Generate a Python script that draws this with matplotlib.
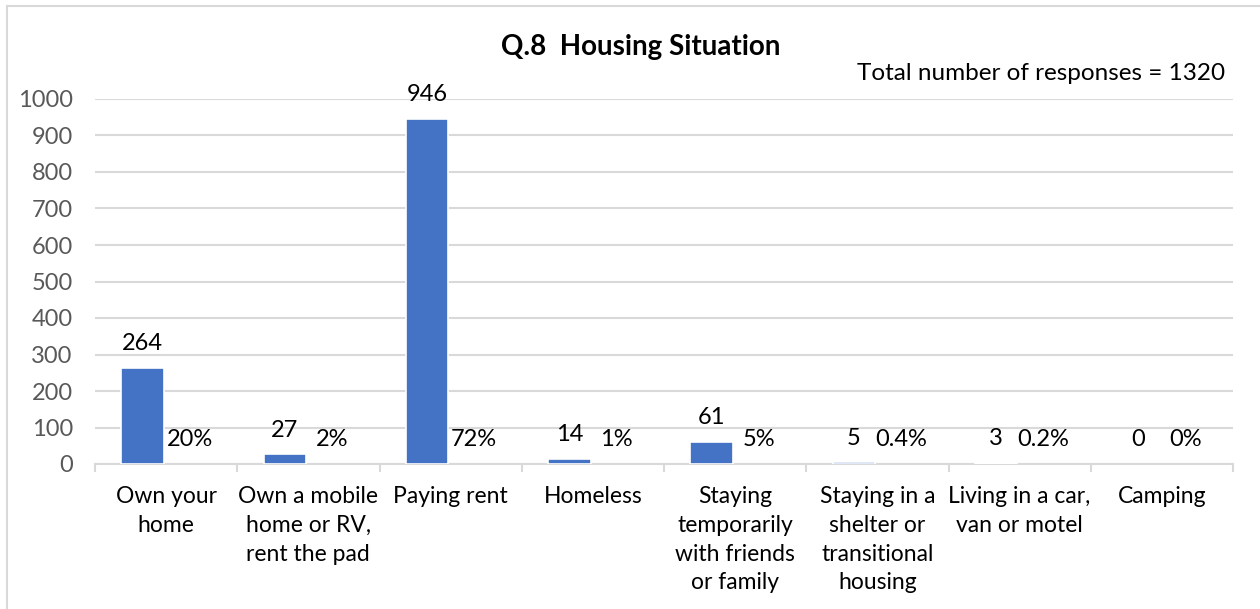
import matplotlib
matplotlib.use("Agg")
import matplotlib.pyplot as plt
from matplotlib.lines import Line2D
import numpy as np

plt.rcParams['font.family'] = ['Lato', 'DejaVu Sans']

categories = [
    "Own your\nhome",
    "Own a mobile\nhome or RV,\nrent the pad",
    "Paying rent",
    "Homeless",
    "Staying\ntemporarily\nwith friends\nor family",
    "Staying in a\nshelter or\ntransitional\nhousing",
    "Living in a car,\nvan or motel",
    "Camping",
]
counts = [264, 27, 946, 14, 61, 5, 3, 0]
shares = [0.20, 0.02, 0.72, 0.01, 0.05, 0.004, 0.002, 0.0]
share_labels = ["20%", "2%", "72%", "1%", "5%", "0.4%", "0.2%", "0%"]
y_ticks = [0, 100, 200, 300, 400, 500, 600, 700, 800, 900, 1000]

title = "Q.8  Housing Situation"
note = "Total number of responses = 1320"

BLUE = "#4472C4"
GRID = "#D9D9D9"
TICK_GRAY = "#595959"
FS = 17

W, H = 1260, 609
fig = plt.figure(figsize=(W / 100, H / 100), dpi=100)
ax = fig.add_axes([95 / W, (H - 464) / H, (1233 - 95) / W, (464 - 99) / H])

x = np.arange(len(categories))
bw = 0.30
off = 0.165

ax.bar(x - off, counts, width=bw, color=BLUE, edgecolor="white",
       linewidth=[1.2 if c > 0 else 0 for c in counts], zorder=3)
ax.bar(x + off, shares, width=bw, color=BLUE, linewidth=0, zorder=3)

for xi, c in zip(x, counts):
    ax.annotate(str(c), (xi - off, c), xytext=(0, 24), textcoords="offset pixels",
                ha="center", va="center", fontsize=FS, color="black", zorder=4)
for xi, s, lab in zip(x, shares, share_labels):
    ax.annotate(lab, (xi + off, s), xytext=(0, 24), textcoords="offset pixels",
                ha="center", va="center", fontsize=FS, color="black", zorder=4)

ax.set_xlim(-0.5, len(categories) - 0.5)
ax.set_ylim(0, 1000)
ax.set_yticks(y_ticks)
ax.set_yticklabels([str(v) for v in y_ticks], fontsize=FS, color=TICK_GRAY)
ax.yaxis.grid(True, color=GRID, linewidth=1.5, zorder=0)
ax.set_axisbelow(True)
ax.tick_params(axis="y", length=0, pad=16)

ax.set_xticks(x)
ax.set_xticklabels(categories, fontsize=16.5, color="black", linespacing=1.45, va="top")
ax.tick_params(axis="x", which="major", length=0, pad=16)
ax.set_xticks(np.arange(-0.5, len(categories)), minor=True)
ax.tick_params(axis="x", which="minor", length=6, width=1.5, color=GRID)

for side in ("top", "right", "left"):
    ax.spines[side].set_visible(False)
ax.spines["bottom"].set_color(GRID)
ax.spines["bottom"].set_linewidth(1.5)

fig.text(641 / W, 1 - 47 / H, title, ha="center", va="center",
         fontsize=20, fontweight="bold", color="black")
fig.text(1225 / W, 1 - 73 / H, note, ha="right", va="center", fontsize=FS + 0.5, color="black")

# chart frame
fig.add_artist(Line2D([7 / W, 7 / W], [0, 1 - 6 / H], transform=fig.transFigure,
                      color=GRID, linewidth=1.5))
fig.add_artist(Line2D([7 / W, 1], [1 - 6 / H, 1 - 6 / H], transform=fig.transFigure,
                      color=GRID, linewidth=1.5))

fig.savefig("out.png", dpi=100, facecolor="white")
